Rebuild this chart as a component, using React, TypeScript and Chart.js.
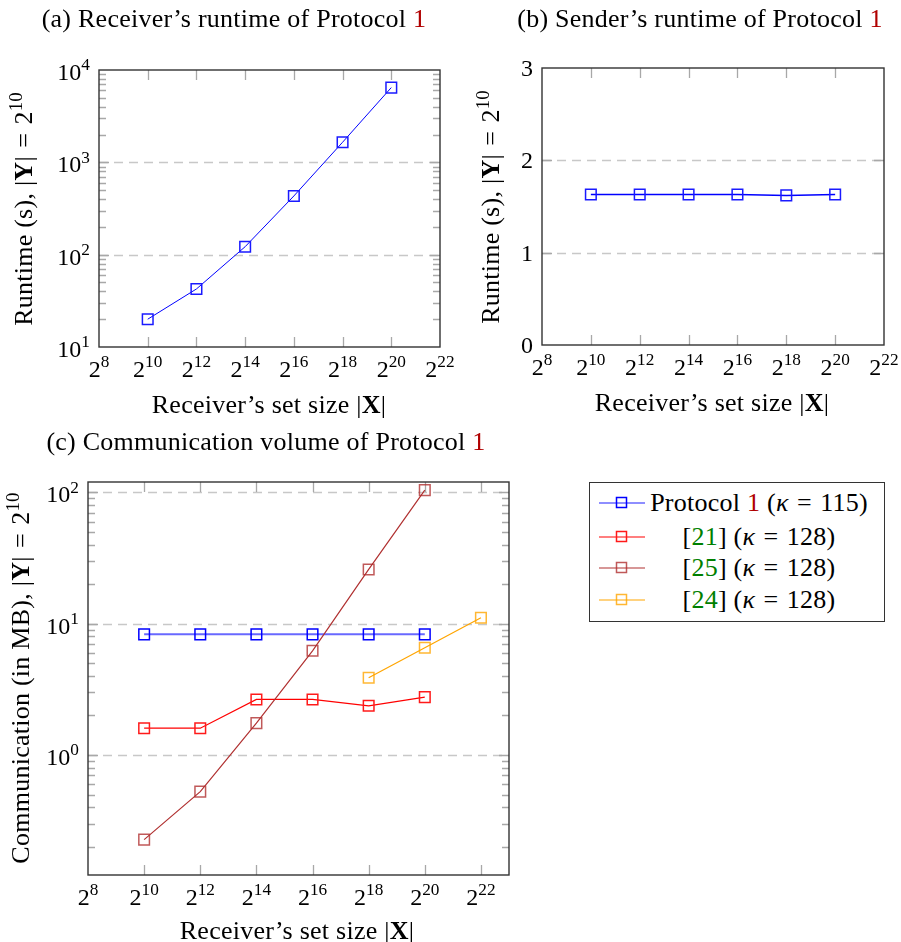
import React, { useEffect, useRef } from 'react';
import { Chart, registerables } from 'chart.js';

Chart.register(...registerables);

const FONT = '"Liberation Serif", "Times New Roman", serif';
const FS = 24; // tick label size (canvas)
const TFS = 26; // text size (titles, axis titles, legend)
const LINK_RED = '#b00000';
const CITE_GREEN = '#008000';

// ---------- data ----------
const sizeExponents = [10, 12, 14, 16, 18, 20];
const xTickExponents = [8, 10, 12, 14, 16, 18, 20, 22];

const receiverRuntime = [20, 42.5, 122, 432, 1650, 6450];
const senderRuntime = [1.63, 1.63, 1.63, 1.63, 1.62, 1.63];

const commProtocol1 = [8.3, 8.3, 8.3, 8.3, 8.3, 8.3];
const comm21 = [1.6, 1.6, 2.65, 2.65, 2.37, 2.76];
const comm25 = [0.227, 0.526, 1.75, 6.22, 25.9, 104];
const comm24Exponents = [18, 20, 22];
const comm24 = [3.88, 6.56, 11.1];

const runtimeYTickExps = [1, 2, 3, 4];
const senderYTicks = [0, 1, 2, 3];
const commYTickExps = [0, 1, 2];

// ---------- helpers ----------
const pts = (xs: number[], ys: number[]) => xs.map((x, i) => ({ x, y: ys[i] }));

function drawPowLabel(ctx: CanvasRenderingContext2D, base: string, exp: string, x: number, y: number, align: 'center' | 'right') {
  ctx.font = `${FS}px ${FONT}`;
  const w1 = ctx.measureText(base).width;
  let w2 = 0;
  const ES = FS * 0.72;
  if (exp) {
    ctx.font = `${ES}px ${FONT}`;
    w2 = ctx.measureText(exp).width;
  }
  const total = w1 + w2;
  const sx = align === 'center' ? x - total / 2 : x - total;
  ctx.textAlign = 'left';
  ctx.textBaseline = 'alphabetic';
  ctx.fillStyle = '#000';
  ctx.font = `${FS}px ${FONT}`;
  ctx.fillText(base, sx, y);
  if (exp) {
    ctx.font = `${ES}px ${FONT}`;
    ctx.fillText(exp, sx + w1, y - FS * 0.4);
  }
}

const texAxes = {
  id: 'texAxes',
  beforeDatasetsDraw(chart: any, _args: any, opts: any) {
    const { ctx, chartArea: a } = chart;
    const x = chart.scales.x;
    const y = chart.scales.y;
    ctx.save();
    // dashed horizontal grid
    ctx.strokeStyle = '#c8c8c8';
    ctx.lineWidth = 1.3;
    ctx.setLineDash([9, 6]);
    for (const v of opts.yGrid) {
      const py = Math.round(y.getPixelForValue(v)) + 0.5;
      ctx.beginPath();
      ctx.moveTo(a.left, py);
      ctx.lineTo(a.right, py);
      ctx.stroke();
    }
    ctx.setLineDash([]);
    // tick marks (inward, all sides)
    ctx.strokeStyle = '#a8a8a8';
    ctx.lineWidth = 1.3;
    const MAJ = 10;
    const MIN = 7;
    for (const e of opts.xTicks) {
      const px = Math.round(x.getPixelForValue(e)) + 0.5;
      if (px <= a.left + 1 || px >= a.right - 1) continue;
      ctx.beginPath();
      ctx.moveTo(px, a.top);
      ctx.lineTo(px, a.top + MAJ);
      ctx.moveTo(px, a.bottom);
      ctx.lineTo(px, a.bottom - MAJ);
      ctx.stroke();
    }
    const yVals: number[] = opts.yKind === 'pow10' ? opts.yTicks.map((e: number) => Math.pow(10, e)) : opts.yTicks;
    for (const v of yVals) {
      const py = Math.round(y.getPixelForValue(v)) + 0.5;
      if (py <= a.top + 1 || py >= a.bottom - 1) continue;
      ctx.beginPath();
      ctx.moveTo(a.left, py);
      ctx.lineTo(a.left + MAJ, py);
      ctx.moveTo(a.right, py);
      ctx.lineTo(a.right - MAJ, py);
      ctx.stroke();
    }
    if (opts.yMinor) {
      const lo = Math.floor(Math.log10(y.min));
      const hi = Math.ceil(Math.log10(y.max));
      for (let d = lo; d <= hi; d++) {
        for (let k = 2; k <= 9; k++) {
          const v = k * Math.pow(10, d);
          if (v <= y.min || v >= y.max) continue;
          const py = Math.round(y.getPixelForValue(v)) + 0.5;
          ctx.beginPath();
          ctx.moveTo(a.left, py);
          ctx.lineTo(a.left + MIN, py);
          ctx.moveTo(a.right, py);
          ctx.lineTo(a.right - MIN, py);
          ctx.stroke();
        }
      }
    }
    ctx.restore();
  },
  afterDatasetsDraw(chart: any, _args: any, opts: any) {
    const { ctx, chartArea: a } = chart;
    const x = chart.scales.x;
    const y = chart.scales.y;
    ctx.save();
    ctx.strokeStyle = '#333';
    ctx.lineWidth = 1.4;
    ctx.strokeRect(a.left, a.top, a.right - a.left, a.bottom - a.top);
    // x tick labels
    for (const e of opts.xTicks) {
      const px = x.getPixelForValue(e);
      drawPowLabel(ctx, '2', String(e), px, a.bottom + 30, 'center');
    }
    // y tick labels
    for (const t of opts.yTicks) {
      const v = opts.yKind === 'pow10' ? Math.pow(10, t) : t;
      const py = y.getPixelForValue(v);
      if (opts.yKind === 'pow10') drawPowLabel(ctx, '10', String(t), a.left - 9, py + FS * 0.33 + 2, 'right');
      else drawPowLabel(ctx, String(t), '', a.left - 9, py + FS * 0.33, 'right');
    }
    ctx.restore();
  },
};

const markerBase = {
  pointStyle: 'rect',
  pointRadius: 7.5,
  pointHoverRadius: 7.5,
  pointBorderWidth: 1.5,
  pointBackgroundColor: 'rgba(0,0,0,0)',
  tension: 0,
  fill: false,
};

function makeConfig(datasets: any[], xMax: number, yScale: any, padding: any, axisOpts: any) {
  return {
    type: 'line',
    data: { datasets },
    options: {
      responsive: false,
      maintainAspectRatio: false,
      animation: false,
      events: [],
      layout: { padding },
      plugins: {
        legend: { display: false },
        tooltip: { enabled: false },
        texAxes: axisOpts,
      },
      scales: {
        x: { type: 'linear', min: 8, max: xMax, display: false },
        y: { ...yScale, display: false },
      },
    },
    plugins: [texAxes],
  };
}

function ChartCanvas({ left, top, width, height, build }: { left: number; top: number; width: number; height: number; build: () => any }) {
  const ref = useRef<HTMLCanvasElement>(null);
  useEffect(() => {
    const chart = new Chart(ref.current as HTMLCanvasElement, build());
    return () => chart.destroy();
  }, []);
  return (
    <canvas
      ref={ref}
      width={width}
      height={height}
      style={{ position: 'absolute', left, top, width, height, display: 'block' }}
    />
  );
}

const textStyle: any = {
  fontFamily: FONT,
  fontSize: TFS,
  letterSpacing: '0.25px',
  whiteSpace: 'nowrap',
  color: '#000',
};

function Txt({ cx, cy, rotate, w = 560, children }: { cx: number; cy: number; rotate?: boolean; w?: number; children: any }) {
  return (
    <div
      style={{
        ...textStyle,
        position: 'absolute',
        left: cx - w / 2,
        top: cy - 16,
        width: w,
        height: 32,
        lineHeight: '32px',
        textAlign: 'center',
        transform: rotate ? 'rotate(-90deg)' : undefined,
        transformOrigin: 'center center',
      }}
    >
      {children}
    </div>
  );
}

const Sup = ({ children }: { children: any }) => (
  <span style={{ fontSize: '0.72em', position: 'relative', top: '-0.55em', lineHeight: 0 }}>{children}</span>
);

const Eq = () => <span style={{ margin: '0 0.06em' }}>=</span>;

const YEq = () => (
  <>
    |<b>Y</b>| <Eq /> 2<Sup>10</Sup>
  </>
);
const XSet = () => (
  <>
    Receiver’s set size |<b>X</b>|
  </>
);
const P1 = () => <span style={{ color: LINK_RED }}>1</span>;

function LegendIcon({ line, mark, lw }: { line: string; mark: string; lw: number }) {
  return (
    <svg width={46} height={14} style={{ position: 'absolute', left: 9, top: -7 }}>
      <line x1={0} y1={7} x2={46} y2={7} stroke={line} strokeWidth={lw} />
      <rect x={17.5} y={1.5} width={10} height={10} fill="none" stroke={mark} strokeWidth={1.5} />
    </svg>
  );
}

function LegendRow({ y, line, mark, lw, children }: { y: number; line: string; mark: string; lw: number; children: any }) {
  return (
    <div style={{ position: 'absolute', left: 0, top: y, width: 296, height: 0 }}>
      <LegendIcon line={line} mark={mark} lw={lw} />
      <div
        style={{
          ...textStyle,
          position: 'absolute',
          left: 58,
          top: -16,
          width: 222,
          height: 32,
          lineHeight: '32px',
          textAlign: 'center',
        }}
      >
        {children}
      </div>
    </div>
  );
}

const K = () => <i>κ</i>;

export default function App() {
  const buildA = () =>
    makeConfig(
      [
        {
          ...markerBase,
          data: pts(sizeExponents, receiverRuntime),
          borderColor: '#0000ff',
          borderWidth: 1,
          pointBorderColor: '#1a1aff',
        },
      ],
      22,
      { type: 'logarithmic', min: 10, max: 10000 },
      { left: 99, top: 70, right: 40, bottom: 73 },
      { xTicks: xTickExponents, yTicks: runtimeYTickExps, yKind: 'pow10', yGrid: [100, 1000], yMinor: true }
    );

  const buildB = () =>
    makeConfig(
      [
        {
          ...markerBase,
          data: pts(sizeExponents, senderRuntime),
          borderColor: '#0000ff',
          borderWidth: 1.5,
          pointBorderColor: '#1a1aff',
        },
      ],
      22,
      { type: 'linear', min: 0, max: 3 },
      { left: 92, top: 68, right: 17, bottom: 75 },
      { xTicks: xTickExponents, yTicks: senderYTicks, yKind: 'plain', yGrid: [1, 2], yMinor: false }
    );

  const buildC = () =>
    makeConfig(
      [
        {
          ...markerBase,
          order: 3,
          data: pts(sizeExponents, commProtocol1),
          borderColor: 'rgba(40,40,255,0.7)',
          borderWidth: 2,
          pointBorderColor: '#0000ff',
        },
        {
          ...markerBase,
          order: 2,
          data: pts(sizeExponents, comm21),
          borderColor: '#ff0000',
          borderWidth: 1.2,
          pointBorderColor: '#ff1a1a',
        },
        {
          ...markerBase,
          order: 1,
          data: pts(sizeExponents, comm25),
          borderColor: '#b03030',
          borderWidth: 1.2,
          pointBorderColor: 'rgba(176,48,48,0.8)',
        },
        {
          ...markerBase,
          order: 0,
          data: pts(comm24Exponents, comm24),
          borderColor: '#ffa500',
          borderWidth: 1.2,
          pointBorderColor: 'rgba(255,165,0,0.8)',
        },
      ],
      23,
      { type: 'logarithmic', min: 0.122, max: 120 },
      { left: 88, top: 62, right: 71, bottom: 67 },
      { xTicks: xTickExponents, yTicks: commYTickExps, yKind: 'pow10', yGrid: [1, 10, 100], yMinor: true }
    );

  return (
    <div style={{ position: 'absolute', left: 0, top: 0, width: 901, height: 942, background: '#fff', overflow: 'hidden' }}>
      <ChartCanvas left={0} top={0} width={480} height={420} build={buildA} />
      <ChartCanvas left={450} top={0} width={451} height={420} build={buildB} />
      <ChartCanvas left={0} top={420} width={580} height={522} build={buildC} />

      <Txt cx={234} cy={19}>
        (a) Receiver’s runtime of Protocol <P1 />
      </Txt>
      <Txt cx={700} cy={19}>
        (b) Sender’s runtime of Protocol <P1 />
      </Txt>
      <Txt cx={266} cy={442}>
        (c) Communication volume of Protocol <P1 />
      </Txt>

      <Txt cx={269} cy={405}>
        <XSet />
      </Txt>
      <Txt cx={712} cy={403}>
        <XSet />
      </Txt>
      <Txt cx={297} cy={931}>
        <XSet />
      </Txt>

      <Txt cx={24} cy={209} rotate>
        Runtime (s), <YEq />
      </Txt>
      <Txt cx={491} cy={207} rotate>
        Runtime (s), <YEq />
      </Txt>
      <Txt cx={21} cy={678} rotate>
        Communication (in MB), <YEq />
      </Txt>

      <div
        style={{
          position: 'absolute',
          left: 589,
          top: 482,
          width: 296,
          height: 140,
          boxSizing: 'border-box',
          border: '1.3px solid #333',
          background: '#fff',
        }}
      >
        <LegendRow y={20} line="rgba(40,40,255,0.7)" mark="#0000ff" lw={1.5}>
          Protocol <P1 /> (<K /> <Eq /> 115)
        </LegendRow>
        <LegendRow y={54} line="#ff0000" mark="#ff1a1a" lw={1.2}>
          [<span style={{ color: CITE_GREEN }}>21</span>] (<K /> <Eq /> 128)
        </LegendRow>
        <LegendRow y={85} line="#b03030" mark="rgba(176,48,48,0.8)" lw={1.2}>
          [<span style={{ color: CITE_GREEN }}>25</span>] (<K /> <Eq /> 128)
        </LegendRow>
        <LegendRow y={117} line="#ffa500" mark="rgba(255,165,0,0.8)" lw={1.2}>
          [<span style={{ color: CITE_GREEN }}>24</span>] (<K /> <Eq /> 128)
        </LegendRow>
      </div>
    </div>
  );
}
